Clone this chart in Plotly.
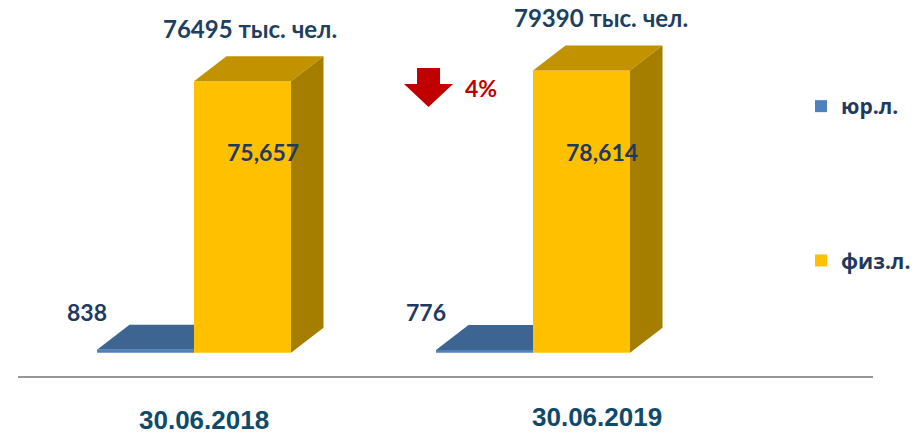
import plotly.graph_objects as go

# ---------------- data ----------------
categories = ["30.06.2018", "30.06.2019"]
series_names = ["юр.л.", "физ.л."]
legal = [838, 776]             # юр.л.
individual = [75657, 78614]    # физ.л.
change_label = "4%"
unit_label = "тыс. чел."

# ---------------- layout constants (pixels) ----------------
W, H = 920, 434
ML, MR, MT, MB = 18, 47, 0, 58
PX_PER_CAT = 339.0      # distance between category centres
CAT0_PX = 194.0         # pixel x of first category centre
VAL_PER_PX = 278.6      # value units per pixel
ZERO_PX = 352.7         # pixel y of value 0

BW = 97.0 / PX_PER_CAT          # bar width (category units)
DX = 32.5 / PX_PER_CAT          # 3D depth, horizontal
DY = 25.0 * VAL_PER_PX          # 3D depth, vertical

x_range = [-(CAT0_PX - ML) / PX_PER_CAT, (W - MR - CAT0_PX) / PX_PER_CAT]
y_range = [-(H - MB - ZERO_PX) * VAL_PER_PX, (ZERO_PX - MT) * VAL_PER_PX]

BLUE_FRONT, BLUE_TOP = "#4f81bd", "#3e6491"
GOLD_FRONT, GOLD_TOP, GOLD_SIDE = "#ffc000", "#c39200", "#a57e00"
LABEL_COL = "#1f3a60"
CAT_COL = "#0f4a6a"
RED = "#c00000"
FONT = "Lato, 'Open Sans', sans-serif"

xs = list(range(len(categories)))

fig = go.Figure()
fig.add_trace(go.Bar(x=xs, y=legal, width=BW, offset=-BW, name=series_names[0],
                     legendgroup="a", marker=dict(color=BLUE_FRONT, line=dict(width=0)),
                     hoverinfo="skip"))
fig.add_trace(go.Bar(x=xs, y=individual, width=BW, offset=0, name=series_names[1],
                     legendgroup="b", marker=dict(color=GOLD_FRONT, line=dict(width=0)),
                     hoverinfo="skip"))

shapes = []
def face(pts, color, layer):
    path = "M " + " L ".join(f"{x},{y}" for x, y in pts) + " Z"
    return dict(type="path", path=path, xref="x", yref="y", fillcolor=color,
                line=dict(width=0), layer=layer)

for i, v in zip(xs, legal):
    x0, x1 = i - BW, i
    shapes.append(face([(x0, v), (x1, v), (x1 + DX, v + DY), (x0 + DX, v + DY)], BLUE_TOP, "below"))

for i, v in zip(xs, individual):
    x0, x1 = i, i + BW
    shapes.append(face([(x0, v), (x1, v), (x1 + DX, v + DY), (x0 + DX, v + DY)], GOLD_TOP, "above"))
    shapes.append(face([(x1, 0), (x1 + DX, DY), (x1 + DX, v + DY), (x1, v)], GOLD_SIDE, "above"))

# red down arrow (decoration, paper coords from pixels)
def P(px, py):
    return ((px - ML) / (W - ML - MR), (H - MB - py) / (H - MT - MB))

arrow_px = [(417, 68), (440, 68), (440, 84), (453, 84), (428.5, 107), (404, 84), (417, 84)]
apath = "M " + " L ".join("{:.4f},{:.4f}".format(*P(a, b)) for a, b in arrow_px) + " Z"
shapes.append(dict(type="path", path=apath, xref="paper", yref="paper",
                   fillcolor=RED, line=dict(width=0), layer="above"))

annotations = []
lbl_font = dict(family=FONT, size=23, color=LABEL_COL)
C = dict(showarrow=False, xanchor="center", yanchor="middle")
for i, v in zip(xs, individual):
    annotations.append(dict(x=i + BW / 2 + 0.06, y=55800, xref="x", yref="y",
                            text=f"<b>{v:,}</b>", font=lbl_font, **C))
for i, v in zip(xs, legal):
    annotations.append(dict(x=i - BW / 2 - 0.172, y=v + 10500, xref="x", yref="y",
                            text=f"<b>{v:,}</b>", font=lbl_font, **C))
total_dx = [0.165, 0.2]
for i, (a, b) in enumerate(zip(legal, individual)):
    total = a + b
    annotations.append(dict(x=i + total_dx[i], y=b + DY + 7800, xref="x", yref="y",
                            text=f"<b>{total} {unit_label}</b>",
                            font=dict(family=FONT, size=24, color="#1e3f60"), **C))
cat_dx = [0.03, 0.19]
cat_py = [420, 417]
for i, c in enumerate(categories):
    annotations.append(dict(x=i + cat_dx[i], y=P(0, cat_py[i])[1], xref="x", yref="paper",
                            text=f"<b>{c}</b>",
                            font=dict(family="'Liberation Sans', Arial, sans-serif", size=26, color=CAT_COL),
                            **C))
px4, py4 = P(481, 88)
annotations.append(dict(x=px4, y=py4, xref="paper", yref="paper", text=f"<b>{change_label}</b>",
                        font=dict(family=FONT, size=23, color=RED), **C))

fig.update_layout(
    width=W, height=H,
    margin=dict(l=ML, r=MR, t=MT, b=MB),
    paper_bgcolor="white", plot_bgcolor="white",
    barmode="overlay",
    showlegend=True,
    legend=dict(x=P(801, 0)[0], xanchor="left", y=P(0, 86)[1], yanchor="top",
                traceorder="grouped", tracegroupgap=124,
                font=dict(family="'Open Sans', sans-serif", size=21, color=LABEL_COL),
                bgcolor="rgba(0,0,0,0)"),
    xaxis=dict(range=x_range, showline=True, linecolor="#969696", linewidth=2,
               showticklabels=False, ticks="", showgrid=False, zeroline=False, fixedrange=True),
    yaxis=dict(range=y_range, showline=False, showticklabels=False, ticks="",
               showgrid=False, zeroline=False, fixedrange=True),
    shapes=shapes,
    annotations=annotations,
)
fig.for_each_trace(lambda t: t.update(name=f"<b>{t.name}</b>"))

fig.write_html("out.html", config={"displayModeBar": False},
               post_script="document.body.style.margin='0';document.body.style.overflow='hidden';")
